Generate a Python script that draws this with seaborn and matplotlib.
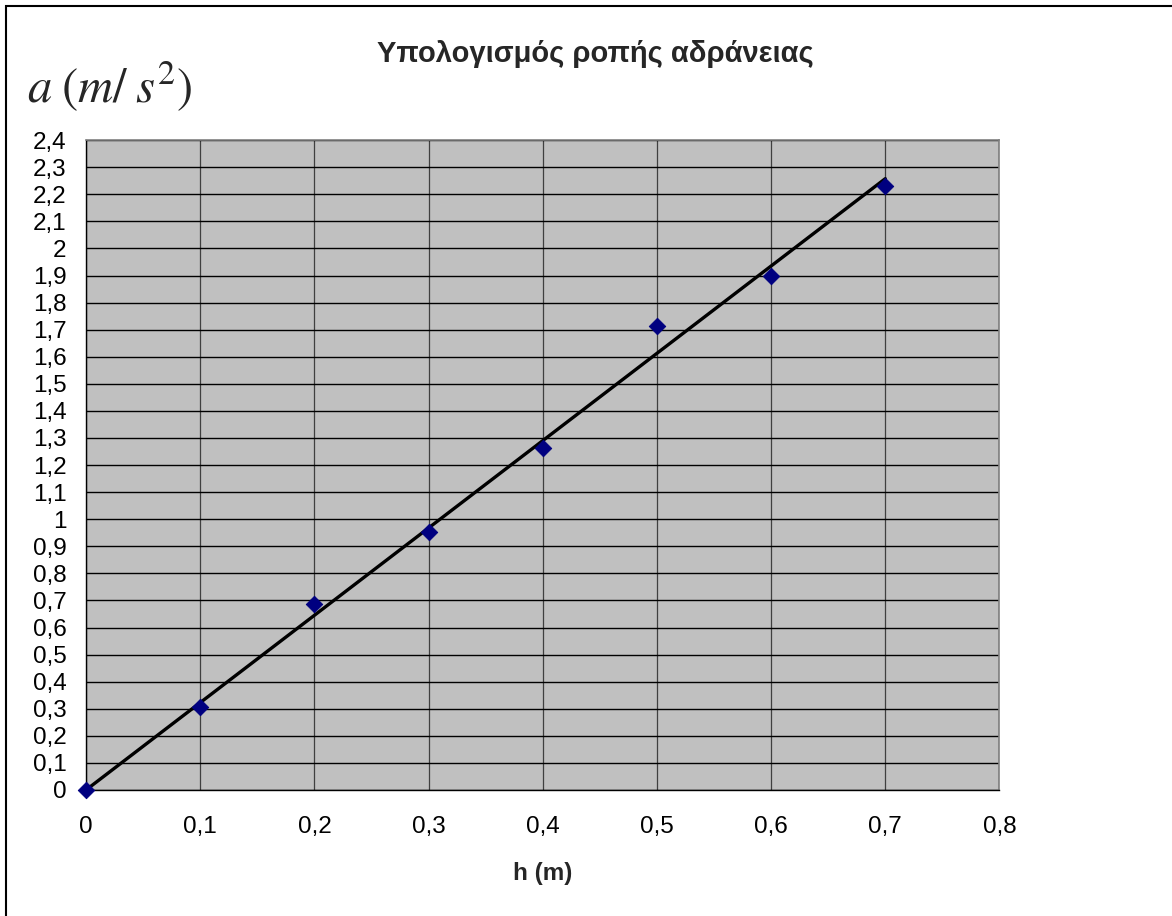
import numpy as np
import seaborn as sns
import matplotlib
matplotlib.use("Agg")
import matplotlib.pyplot as plt
from matplotlib.ticker import FuncFormatter, MultipleLocator
from matplotlib.patches import Rectangle

# Measured values
h_values = [0.0, 0.1, 0.2, 0.3, 0.4, 0.5, 0.6, 0.7]
a_values = [0.0, 0.306, 0.687, 0.953, 1.263, 1.713, 1.898, 2.230]

title_text = "Υπολογισμός ροπής αδράνειας"
xlabel_text = "h (m)"
ylabel_text = r"$a\;(m/\;s^2)$"

sns.set_style("white")
plt.rcParams["font.family"] = ["Liberation Sans", "DejaVu Sans"]
plt.rcParams["mathtext.fontset"] = "stix"

fig = plt.figure(figsize=(11.72, 9.16), dpi=100)
ax = fig.add_axes([0.0734, 0.1376, 0.7794, 0.7094])
ax.set_facecolor("#c0c0c0")

# trendline through origin (least squares)
x = np.array(h_values)
y = np.array(a_values)
slope = np.sum(x * y) / np.sum(x * x)
x_fit = np.array([0.0, x.max()])
sns.lineplot(x=x_fit, y=slope * x_fit, ax=ax, color="black", linewidth=2.4, zorder=3)

sns.scatterplot(x=h_values, y=a_values, ax=ax, marker="D", s=70, color="#000080",
                edgecolor="#000080", zorder=4, clip_on=False)

ax.set_xlim(0, 0.8)
ax.set_ylim(0, 2.4)
ax.xaxis.set_major_locator(MultipleLocator(0.1))
ax.yaxis.set_major_locator(MultipleLocator(0.1))

def comma_fmt(v, pos):
    s = f"{v:.1f}".rstrip("0").rstrip(".")
    return s.replace(".", ",")

ax.xaxis.set_major_formatter(FuncFormatter(comma_fmt))
ax.yaxis.set_major_formatter(FuncFormatter(comma_fmt))

ax.grid(True, axis="y", color="black", linewidth=1.0)
ax.grid(True, axis="x", color="#404040", linewidth=0.9)
ax.set_axisbelow(True)

for side in ["top", "right"]:
    ax.spines[side].set_color("#808080")
    ax.spines[side].set_linewidth(1.2)
for side in ["left", "bottom"]:
    ax.spines[side].set_color("black")
    ax.spines[side].set_linewidth(1.0)

ax.tick_params(axis="both", direction="out", length=6, width=1, color="black",
               labelsize=17.5, labelcolor="black")
ax.tick_params(axis="x", pad=13)
ax.tick_params(axis="y", pad=8)

ax.set_xlabel(xlabel_text, fontsize=17.5, fontweight="bold", labelpad=17)
ax.set_ylabel("")

fig.text(0.508, 0.941, title_text, ha="center", va="center", fontsize=21,
         fontweight="bold")
fig.text(0.094, 0.905, ylabel_text, ha="center", va="center", fontsize=35)

# outer chart frame
fig.patches.append(Rectangle((0.0055, -0.01), 1.0, 1.0035, transform=fig.transFigure,
                             fill=False, edgecolor="black", linewidth=1.5))

fig.savefig("out.png", dpi=100)
